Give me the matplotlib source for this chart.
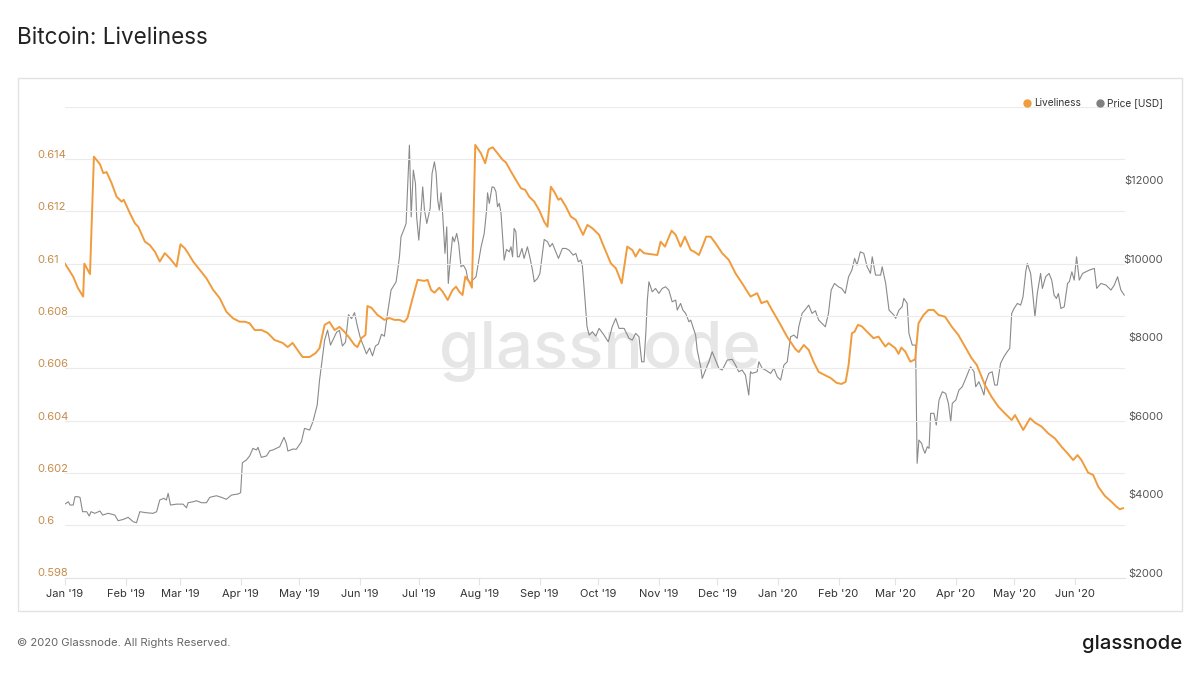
import matplotlib
matplotlib.use("Agg")
import matplotlib.pyplot as plt
import matplotlib.dates as mdates
import matplotlib.transforms as mtransforms
from matplotlib.lines import Line2D
from matplotlib.patches import Rectangle
import pandas as pd

plt.rcParams['font.family'] = ['Inter', 'DejaVu Sans']

START = pd.Timestamp("2019-01-01")

# Liveliness: days since 2019-01-01 and value
live_days = [0, 4.2, 6.6, 9.3, 9.9, 12.8, 14.8, 17.9, 19.6, 21.3, 23.9, 26.4, 29, 30.1,
             33.2, 35.8, 37.5, 40.9, 43.4, 46, 48.5, 51.1, 53.7, 57.1, 59.1, 61.3, 63,
             65.6, 69, 72.4, 75.8, 79.2, 82.6, 86, 89.4, 92, 94.5, 97.1, 100.7, 103.7,
             107.3, 111.4, 114, 116.5, 119, 121.6, 125.2, 128.3, 130.3, 132.9, 135.4,
             138, 140.5, 143.1, 145.6, 148.2, 149.7, 151.8, 153.8, 154.8, 156.9, 159.9,
             163.5, 166.1, 168.6, 171.2, 173.7, 175.3, 177.7, 180.5, 184, 185.6, 187.4,
             189.1, 191.6, 193.3, 195.9, 198.4, 200.2, 201.8, 203.5, 204.9, 206.9, 208.3,
             210, 212.9, 215.1, 216.8, 218.9, 221.4, 224, 225.7, 228.3, 230.8, 233.4,
             235.6, 237.6, 240.2, 242.7, 245.3, 247, 248.7, 250.4, 252.6, 253.8, 256.4,
             258.9, 261.5, 263.2, 265.2, 267.4, 270, 273.4, 275.1, 279.4, 282, 285,
             287.8, 290.4, 292.1, 294.2, 296.4, 298.9, 303.2, 304.9, 307.1, 310.5, 312.6,
             315.1, 317.3, 320.3, 322, 324.5, 326.6, 328.2, 330.5, 333, 336.4, 339.8,
             343.2, 346.6, 350.9, 354.3, 356.5, 359.4, 361.9, 365.4, 369.6, 373.9, 375.6,
             378.2, 380.7, 383.2, 385.8, 388.9, 391.9, 395, 397.5, 399.6, 401.1, 402.8,
             404.2, 405.9, 407.9, 410.5, 413.9, 416.4, 419.9, 421.6, 425, 426.7, 428.1,
             430.1, 432.7, 435.2, 436.9, 439.5, 442, 444.6, 447.1, 450.5, 453.9, 457.3,
             460.7, 464.1, 466.7, 470.9, 474.3, 477.8, 482, 484.6, 486.3, 490.5, 494,
             496.5, 499.9, 503.3, 506.7, 510.1, 513.5, 516.1, 518.3, 520.3, 523.7, 526.3,
             528.9, 532.3, 535.6, 538.2, 539.9, 541.6]
live_vals = [0.6100, 0.6095, 0.60907, 0.60874, 0.6100, 0.6096, 0.61409, 0.6138, 0.61346,
             0.6135, 0.61307, 0.61256, 0.61237, 0.61244, 0.61193, 0.61154, 0.61141,
             0.61084, 0.61071, 0.61046, 0.61008, 0.6104, 0.6102, 0.60989, 0.61074,
             0.61059, 0.6104, 0.61008, 0.60976, 0.60944, 0.609, 0.60868, 0.60816, 0.60791,
             0.60778, 0.60778, 0.60772, 0.60746, 0.60746, 0.60735, 0.60708, 0.60697,
             0.60681, 0.60697, 0.6067, 0.60643, 0.60643, 0.60658, 0.60677, 0.60766,
             0.60777, 0.60746, 0.60758, 0.60739, 0.60716, 0.60689, 0.60681, 0.60716,
             0.60727, 0.60838, 0.60831, 0.60804, 0.60785, 0.60792, 0.60785, 0.60785,
             0.60777, 0.60792, 0.60861, 0.60938, 0.60934, 0.60938, 0.60899, 0.60889,
             0.60908, 0.60893, 0.60861, 0.60899, 0.60912, 0.60893, 0.6088, 0.6095, 0.60931,
             0.60908, 0.61454, 0.61422, 0.61384, 0.61437, 0.61445, 0.61422, 0.61397,
             0.61387, 0.61352, 0.6132, 0.61288, 0.61282, 0.61256, 0.61237, 0.61205,
             0.6116, 0.61141, 0.61294, 0.61275, 0.61244, 0.6125, 0.61218, 0.6118, 0.61167,
             0.61141, 0.6111, 0.61148, 0.61135, 0.61110, 0.61078, 0.61001, 0.60982,
             0.60925, 0.61065, 0.61052, 0.61027, 0.61055, 0.6104, 0.61037, 0.61033,
             0.61084, 0.61065, 0.61126, 0.6111, 0.61065, 0.61103, 0.61052, 0.61046,
             0.61033, 0.61071, 0.61103, 0.61103, 0.61078, 0.6104, 0.61014, 0.60963,
             0.60925, 0.60874, 0.60887, 0.60849, 0.60857, 0.60823, 0.60778, 0.60721,
             0.60673, 0.60662, 0.60689, 0.60670, 0.60624, 0.60586, 0.60574, 0.60563,
             0.60544, 0.6054, 0.60548, 0.60612, 0.60734, 0.6074, 0.60766, 0.6076, 0.6074,
             0.60715, 0.60721, 0.60683, 0.60696, 0.60677, 0.60655, 0.60679, 0.60664,
             0.60625, 0.60634, 0.60772, 0.60804, 0.60823, 0.60823, 0.60804, 0.60797,
             0.60759, 0.60727, 0.60683, 0.60638, 0.60613, 0.60536, 0.60491, 0.60453,
             0.60421, 0.60402, 0.60421, 0.60364, 0.60409, 0.60392, 0.60377, 0.60351,
             0.60332, 0.603, 0.60272, 0.60249, 0.60268, 0.60249, 0.60201, 0.60192,
             0.60147, 0.60112, 0.6009, 0.60071, 0.60061, 0.60065]

# BTC price [USD]: days since 2019-01-01 and value
price_days = [0, 1.7, 2.6, 4.2, 5.1, 6.8, 7.7, 9, 11.1, 12.4, 13.3, 15.3, 17.9, 19.3, 22.1,
              25.5, 27.2, 29.8, 32.3, 34.9, 36.6, 38.3, 41.7, 45.1, 46.9, 48.5, 50.6,
              51.9, 52.8, 54, 57.1, 60.4, 62.2, 63, 65.6, 67.3, 69.9, 72.4, 74.1, 77.5,
              80.1, 82.6, 85.2, 88.6, 89.9, 90.8, 92.8, 94.5, 96.2, 98, 98.8, 100.5, 103.1,
              104.8, 106.4, 109.9, 112.1, 113.3, 114.1, 116.7, 118.4, 121, 122.6, 125.2,
              126.9, 129.1, 130.3, 131.3, 132.9, 134.4, 135.9, 137.5, 139, 140.5, 142,
              143.6, 145.1, 146.7, 148.2, 149.7, 151.2, 152.8, 154.3, 155.9, 157.4, 158.9,
              160.4, 162, 163.5, 165, 166.1, 166.9, 169.5, 171.2, 172, 173.7, 174.6, 176.3,
              177.2, 178.3, 179.4, 180, 181.1, 182.3, 183.1, 184, 185.2, 186.9, 187.9,
              189.1, 190, 190.8, 191.6, 192.5, 193.3, 194.5, 195.4, 196.2, 197.2, 198.4,
              199.3, 200.5, 201.5, 202.7, 203.9, 205.3, 206.1, 207.3, 208.7, 210.4, 213,
              214.6, 215.8, 216.3, 217.2, 218.6, 219.7, 220.6, 221.4, 222.3, 223.2, 224.8,
              226, 227.4, 228.3, 229.1, 229.9, 230.8, 231.6, 232.5, 233.9, 235, 236.7,
              237.9, 239.3, 240.2, 241.9, 243.1, 245.3, 247, 248.2, 249.5, 250.9, 252.6,
              254.6, 256.4, 258, 260.1, 261.5, 262.8, 264, 264.8, 265.7, 266.2, 267.2,
              268.3, 270, 271.7, 273.4, 275.9, 278.1, 280.1, 281.9, 283.6, 286.2, 288.7,
              290.4, 292.1, 293.8, 295.2, 296.4, 297.3, 298.1, 298.9, 300.6, 302.3, 304,
              305.7, 307.4, 309.1, 310.8, 312.6, 313.4, 315.1, 316.3, 317.7, 319.4, 320.3,
              322, 322.8, 323.6, 325.4, 326.2, 327.9, 329.6, 331.3, 333, 334.7, 336.4, 339,
              341.5, 343.2, 344.9, 346.6, 348.3, 350, 350.9, 351.7, 354.3, 355.2, 356.9,
              358.6, 361.2, 362.9, 364.6, 366.3, 368, 369.7, 371.4, 373.1, 374.8, 375.6,
              377.3, 379, 380.7, 382.4, 384.1, 385.8, 387.5, 389.2, 390.8, 392.2, 393.9,
              395.9, 397.6, 399.4, 401.1, 402.8, 404.2, 405.4, 407.1, 408.9, 410.6, 412.3,
              413.2, 414.9, 417.5, 418.3, 420.1, 421.8, 424.3, 425.2, 426.9, 428.5, 429.4,
              431.1, 432, 433.7, 435.4, 436.2, 437.1, 438.5, 439.2, 440.2, 441.4, 442.3,
              443.1, 444.8, 446, 447.4, 449.1, 450.8, 452.2, 453.4, 454.2, 456, 457.6,
              459.3, 461.1, 462.8, 463.6, 465.3, 466.2, 467.8, 469.2, 470.4, 471.3, 472.9,
              474.6, 475.9, 477.2, 478.9, 480.6, 482.3, 483.6, 484.6, 485.8, 487.5, 489.2,
              490.4, 491.8, 492.6, 494.3, 495.2, 496.5, 497.7, 499.4, 500.3, 502, 503.7,
              505.1, 506.3, 507.5, 508.5, 509.8, 511.5, 513.2, 514.1, 515.4, 516.6, 517.8,
              519.2, 520.9, 522.6, 524.3, 526.9, 528.1, 530.3, 532.9, 535.4, 537.1, 538.8,
              540.5, 542.2]
price_vals = [3873, 3931, 3847, 3847, 4059, 4059, 4040, 3677, 3677, 3567, 3677, 3636, 3694,
              3592, 3636, 3592, 3447, 3480, 3534, 3422, 3396, 3677, 3650, 3636, 3677, 3975,
              4018, 3975, 4145, 3847, 3870, 3870, 3778, 3906, 3931, 3957, 3906, 3906, 4043,
              4084, 4043, 3993, 4102, 4128, 4161, 4925, 4994, 5096, 5292, 5250, 5318, 5063,
              5097, 5231, 5250, 5333, 5572, 5420, 5223, 5275, 5267, 5460, 5801, 5758, 5970,
              6395, 7032, 7415, 8052, 8306, 7924, 8095, 8250, 8300, 7900, 8000, 8700, 8600,
              8750, 8400, 8100, 7900, 7700, 7850, 7650, 7900, 7950, 8200, 8150, 8700, 9071,
              9326, 9537, 10174, 10684, 10898, 11025, 13020, 11193, 12383, 12044, 11193,
              10600, 11364, 11958, 11364, 11025, 11407, 12299, 12595, 12299, 11619, 11364,
              11805, 11280, 10261, 10938, 9496, 10090, 10684, 10557, 10770, 10515, 9920,
              9963, 9835, 9624, 9496, 9580, 9665, 10429, 10770, 11364, 11805, 11535, 11958,
              11940, 11830, 11450, 11535, 11280, 10090, 10362, 10300, 10429, 10174, 10898,
              10812, 10174, 10174, 10387, 10133, 10429, 10174, 9835, 9537, 9624, 9751,
              10617, 10557, 10429, 10515, 10345, 10133, 10387, 10387, 10345, 10218, 10260,
              10047, 10090, 9963, 9410, 9071, 8400, 8179, 8262, 8153, 8350, 8179, 8008,
              8390, 8605, 8350, 8350, 8095, 8052, 8222, 8137, 7498, 7498, 8222, 9071, 9537,
              9282, 9368, 9241, 9368, 9410, 9326, 9027, 9071, 8816, 8985, 8816, 8731, 8518,
              8560, 8306, 8179, 7800, 7371, 7075, 7287, 7499, 7753, 7542, 7330, 7287, 7542,
              7560, 7415, 7244, 7287, 7160, 6650, 7244, 7203, 7244, 7498, 7330, 7287, 7203,
              7330, 7118, 7032, 7415, 7498, 8135, 8179, 8095, 8390, 8731, 8833, 8943, 8731,
              8800, 8561, 8477, 8390, 8731, 9326, 9496, 9410, 9368, 9241, 9665, 9835, 10133,
              9963, 10301, 10260, 9920, 9751, 10174, 9708, 9708, 9920, 9496, 8816, 8689,
              8605, 8816, 8900, 9114, 8985, 8222, 7924, 7924, 4910, 5503, 5418, 5292, 5165,
              5333, 5292, 6184, 6184, 5886, 6523, 6734, 6692, 6439, 5970, 6439, 6523, 6778,
              6862, 7075, 7287, 7371, 7245, 6862, 6990, 6820, 6650, 6990, 7203, 7245, 6905,
              6905, 7457, 7626, 7755, 7840, 8731, 8858, 8986, 8943, 9155, 9792, 10005, 9750,
              9326, 8646, 9240, 9751, 9368, 9665, 9750, 9580, 9198, 9112, 9240, 8858, 8900,
              9496, 9540, 9792, 9580, 10174, 9580, 9750, 9792, 9835, 9878, 9370, 9496, 9453,
              9326, 9453, 9665, 9326, 9198]

live_ticks = [0.598, 0.600, 0.602, 0.604, 0.606, 0.608, 0.610, 0.612, 0.614, 0.616]
price_ticks = [2000, 4000, 6000, 8000, 10000, 12000]

ORANGE = '#f09b3c'
GREY = '#8a8a8a'

live_dates = START + pd.to_timedelta(live_days, unit='D')
price_dates = START + pd.to_timedelta(price_days, unit='D')

fig = plt.figure(figsize=(12, 6.75), dpi=100, facecolor='white')
ax = fig.add_axes([65 / 1200, 1 - 577.5 / 675, 1060 / 1200, 470.8 / 675])
ax2 = ax.twinx()

# price below, liveliness on top
ax.set_zorder(ax2.get_zorder() + 1)
ax.patch.set_visible(False)
ax2.patch.set_visible(False)

ax2.plot(price_dates, price_vals, color=GREY, lw=0.8)
ax.plot(live_dates, live_vals, color=ORANGE, lw=1.4, solid_joinstyle='round')

ax.set_xlim(START, START + pd.Timedelta(days=542.6))
ax.set_ylim(0.598, 0.616)
ax2.set_ylim(2000, 14000)

ax.set_yticks(live_ticks)
ax.set_yticklabels(['' if t == 0.616 else ('%.3f' % t).rstrip('0') for t in live_ticks])
ax2.set_yticks(price_ticks)
ax2.set_yticklabels(['$%d' % t for t in price_ticks])

ax.grid(axis='y', color='#ebebeb', lw=0.8)
ax.grid(axis='x', visible=False)
for a in (ax, ax2):
    for s in a.spines.values():
        s.set_visible(False)
ax.spines['bottom'].set_visible(True)
ax.spines['bottom'].set_color('#e3e3e3')

ax.xaxis.set_major_locator(mdates.MonthLocator())
ax.xaxis.set_major_formatter(mdates.DateFormatter("%b '%y"))
ax.tick_params(axis='x', length=5, color='#e3e3e3', pad=3, labelsize=8, labelcolor='#333333')
ax.tick_params(axis='y', length=0, pad=20, labelsize=8, labelcolor='#c58c4a')
ax2.tick_params(axis='y', length=0, pad=27.5, labelsize=8, labelcolor='#555555')

lift = mtransforms.ScaledTranslation(0, 5 / 100, fig.dpi_scale_trans)
for t in ax.yaxis.get_major_ticks():
    t.label1.set_horizontalalignment('left')
    t.label1.set_transform(t.label1.get_transform() + lift)
for t in ax2.yaxis.get_major_ticks():
    t.label2.set_horizontalalignment('right')
    t.label2.set_transform(t.label2.get_transform() + lift)

# frame, title, watermark, legend, footer
fig.add_artist(Rectangle((18 / 1200, 1 - 611 / 675), 1164 / 1200, 533 / 675,
                         transform=fig.transFigure, fill=False, ec='#e2e2e2', lw=1))
fig.text(17 / 1200, 1 - 38 / 675, 'Bitcoin: Liveliness', fontsize=16.2, color='#222222',
         va='center', ha='left')
fig.text(600 / 1200, 1 - 352 / 675, 'glassnode', fontsize=47, color='#e6e6e6',
         ha='center', va='center', weight='medium', zorder=-5)

fig.add_artist(Line2D([1027 / 1200], [1 - 103 / 675], marker='o', ms=5, color=ORANGE,
                      transform=fig.transFigure))
fig.text(1034 / 1200, 1 - 103 / 675, 'Liveliness', fontsize=7.3, color='#333333',
         va='center', ha='left')
fig.add_artist(Line2D([1100 / 1200], [1 - 103 / 675], marker='o', ms=5, color='#808080',
                      transform=fig.transFigure))
fig.text(1107 / 1200, 1 - 103 / 675, 'Price [USD]', fontsize=7.3, color='#333333',
         va='center', ha='left')

fig.text(17 / 1200, 1 - 643 / 675, '\u00a9 2020 Glassnode. All Rights Reserved.',
         fontsize=8.1, color='#666666', va='center', ha='left')
fig.text(1182 / 1200, 1 - 644 / 675, 'glassnode', fontsize=14.6, color='#1a1a1a',
         va='center', ha='right', weight='medium')

fig.savefig('out.png', dpi=100, facecolor='white')
